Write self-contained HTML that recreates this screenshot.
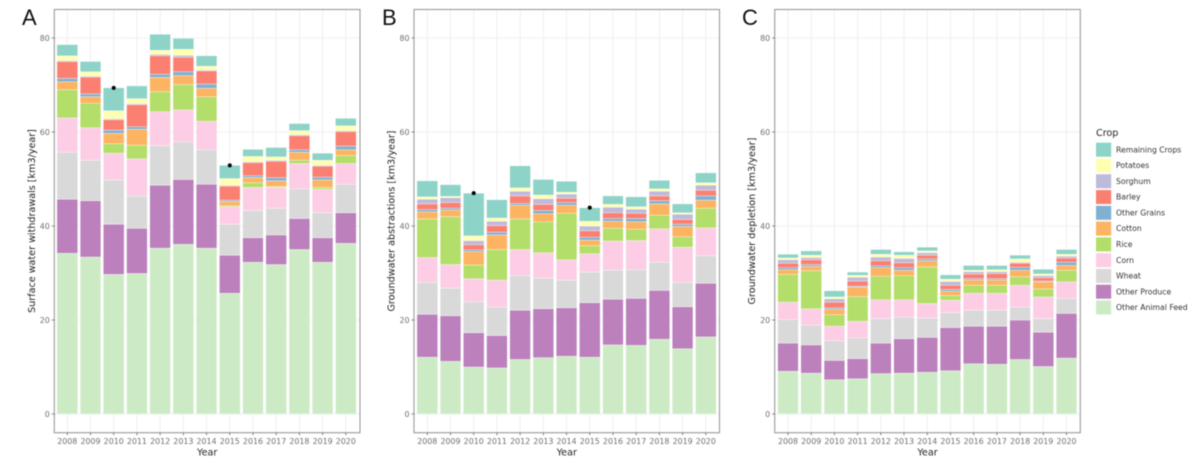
<!DOCTYPE html>
<html lang="en">
<head>
<meta charset="utf-8">
<title>Crop water use charts</title>
<style>
html,body{margin:0;padding:0;background:#fff;width:1200px;height:467px;overflow:hidden}
svg{display:block;filter:blur(0.45px)}
text{font-family:"DejaVu Sans","Liberation Sans",sans-serif}
</style>
</head>
<body>
<svg id="chart" width="1200" height="467" viewBox="0 0 1200 467" xmlns="http://www.w3.org/2000/svg"></svg>
<script>
const years = ["2008","2009","2010","2011","2012","2013","2014","2015","2016","2017","2018","2019","2020"];
const yTicks = [0,20,40,60,80];
const crops = ["Other Animal Feed","Other Produce","Wheat","Corn","Rice","Cotton","Other Grains","Barley","Sorghum","Potatoes","Remaining Crops"];
const cropColors = ["#ccebc5","#bc80bd","#d9d9d9","#fccde5","#b3de69","#fdb462","#80b1d3","#fb8072","#bebada","#ffffb3","#8dd3c7"];

const aFeed = [34.2,33.4,29.7,29.9,35.3,36.1,35.3,25.7,32.3,31.8,35,32.3,36.3];
const aProduce = [11.5,12,10.7,9.6,13.4,13.8,13.6,8.1,5.2,6.3,6.6,5.2,6.5];
const aWheat = [10,8.6,9.4,6.9,8.4,8,7.3,6.6,5.8,5.7,6.3,5.3,6.1];
const aCorn = [7.3,6.9,5.7,7.9,7.2,6.8,6.1,3.7,4.9,4.4,5.4,5,4.4];
const aRice = [6,5.2,2,2.9,4.3,5.4,5.2,0.2,1,0.2,0.7,0.4,1.7];
const aCotton = [1.7,1.4,2.2,3.4,3,1.9,1.8,0.9,1.1,1.2,1.7,1.6,1.2];
const aGrains = [0.7,0.6,0.7,0.5,0.7,0.8,0.9,0.3,0.4,0.7,0.5,0.6,0.8];
const aBarley = [3.6,3.6,2.2,4.7,3.9,3.1,2.8,3,2.8,3.5,3,2.3,3.1];
const aSorghum = [0.2,0.2,0.2,0.2,0.3,0.4,0.2,0.2,0.2,0.2,0.2,0.2,0.2];
const aPotatoes = [1,0.9,1.7,1.1,0.9,1.3,0.8,1.4,1.1,0.7,0.9,1.1,1];
const aRemaining = [2.4,2.2,4.9,2.7,3.4,2.3,2.2,2.8,1.5,2,1.5,1.5,1.6];

const bFeed = [12.1,11.2,10,9.8,11.6,12,12.3,12.1,14.7,14.6,15.9,13.9,16.4];
const bProduce = [9.1,9.7,7.3,6.9,10.5,10.4,10.3,11.6,9.7,10,10.4,8.9,11.4];
const bWheat = [6.8,5.9,6.6,6,7.3,6.5,5.9,6.5,6.2,6.1,6,5.2,5.9];
const bCorn = [5.3,5,4.9,5.8,5.6,5.4,4.3,3.9,6.2,6.2,7.1,7.5,5.9];
const bRice = [8.2,10.2,2.9,6.5,6.5,6.6,9.9,1.7,2.7,2.4,2.9,2.2,4.2];
const bCotton = [1.5,1.4,2.8,3.1,2.9,1.7,1.7,1.2,1.5,1.6,2.4,2.2,1.7];
const bGrains = [0.5,0.4,0.4,0.6,0.4,0.7,0.6,0.6,0.6,0.7,0.7,0.5,0.9];
const bBarley = [1.2,1.2,1.1,1.4,1.6,1.3,0.9,1.4,1.2,1.1,1,1,1.2];
const bSorghum = [1,1,0.9,0.9,1,1.2,0.9,1,1.2,0.9,1,1.1,1.1];
const bPotatoes = [0.5,0.3,1,0.7,0.7,0.8,0.4,1,0.6,0.5,0.5,0.3,0.5];
const bRemaining = [3.4,2.5,9.1,3.9,4.7,3.3,2.3,2.9,1.8,2.1,1.8,1.9,2.1];

const cFeed = [9.1,8.7,7.3,7.5,8.6,8.7,8.9,9.2,10.7,10.6,11.6,10.1,11.9];
const cProduce = [6,6,4.1,4.3,6.5,7.3,7.4,9.2,8,8.1,8.4,7.3,9.5];
const cWheat = [5,4.2,4.2,4.4,5.2,4.6,4.1,3.2,3.4,3.4,2.7,2.9,3.2];
const cCorn = [3.7,3.5,3.1,3.5,4,3.7,3.1,2.6,3.6,3.6,4.7,4.6,3.5];
const cRice = [5.9,8.1,2.4,5.3,5,5.1,7.8,1,1.7,1.7,1.8,1.7,2.5];
const cCotton = [1,0.9,1.2,2,1.8,1.2,1.3,0.9,1.1,1.1,1.4,1.5,1];
const cGrains = [0.4,0.4,0.3,0.2,0.4,0.5,0.4,0.4,0.3,0.3,0.6,0.2,0.7];
const cBarley = [1,1,1.2,1.1,1.1,1.1,0.8,0.9,1,1.1,0.9,0.7,0.9];
const cSorghum = [0.7,0.5,0.7,0.8,0.8,0.9,0.5,0.8,0.5,0.4,0.2,0.4,0.4];
const cPotatoes = [0.4,0.5,0.4,0.4,0.6,0.7,0.4,0.5,0.3,0.4,0.7,0.4,0.4];
const cRemaining = [0.8,0.9,1.3,0.7,1,0.7,0.8,0.9,1,0.9,0.8,1,1];

const aDotYears = ["2010","2015"];
const aDotValues = [69.4,52.9];
const bDotYears = ["2010","2015"];
const bDotValues = [47,43.9];

const aSeries = [aFeed,aProduce,aWheat,aCorn,aRice,aCotton,aGrains,aBarley,aSorghum,aPotatoes,aRemaining];
const bSeries = [bFeed,bProduce,bWheat,bCorn,bRice,bCotton,bGrains,bBarley,bSorghum,bPotatoes,bRemaining];
const cSeries = [cFeed,cProduce,cWheat,cCorn,cRice,cCotton,cGrains,cBarley,cSorghum,cPotatoes,cRemaining];

const svg = document.getElementById('chart');
const NS = 'http://www.w3.org/2000/svg';
function mk(parent, tag, attrs, txt){
  const e = document.createElementNS(NS, tag);
  for (const k in attrs) e.setAttribute(k, attrs[k]);
  if (txt !== undefined) e.textContent = txt;
  parent.appendChild(e);
  return e;
}
const yScale = v => 414 - v * 4.7;
const PANEL_TOP = 9.5, PANEL_BOTTOM = 432.7;
const BAR_W = 20.7, STEP = 23.21;

function drawPanel(o){
  const xScale = i => o.first + i * STEP;
  const g = mk(svg, 'g', {});
  
  

  const letter = mk(g, 'text', {x:o.letterX, y:25, 'font-size':22, fill:'#111', style:'font-family:"Liberation Sans",sans-serif'}, o.id.toUpperCase());
  
  

  yTicks.forEach(t => {
    const gl = mk(g, 'line', {x1:o.left, x2:o.right, y1:yScale(t), y2:yScale(t), stroke:'#efefef', 'stroke-width':1});
    
    
  });
  years.forEach((y, i) => {
    const gl = mk(g, 'line', {x1:xScale(i), x2:xScale(i), y1:PANEL_TOP, y2:PANEL_BOTTOM, stroke:'#efefef', 'stroke-width':1});
    
    
  });

  years.forEach((y, i) => {
    let cum = 0;
    o.series.forEach((s, k) => {
      const v = s[i];
      const r = mk(g, 'rect', {x:xScale(i) - BAR_W / 2, y:yScale(cum + v), width:BAR_W, height:v * 4.7, fill:cropColors[k], stroke:'#ffffff', 'stroke-width':0.35});
      
      
      cum += v;
    });
  });

  o.dotYears.forEach((y, i) => {
    const d = mk(g, 'circle', {cx:xScale(years.indexOf(y)), cy:yScale(o.dotValues[i]), r:2, fill:'#000'});
    
    
  });

  const border = mk(g, 'rect', {x:o.left, y:PANEL_TOP, width:o.right - o.left, height:PANEL_BOTTOM - PANEL_TOP, fill:'none', stroke:'#9a9a9a', 'stroke-width':1.1});
  
  

  yTicks.forEach(t => {
    const tk = mk(g, 'line', {x1:o.left - 2.5, x2:o.left, y1:yScale(t), y2:yScale(t), stroke:'#666', 'stroke-width':0.8});
    
    
    const lb = mk(g, 'text', {x:o.left - 4.5, y:yScale(t) + 2.8, 'text-anchor':'end', 'font-size':7.9, fill:'#6e6e6e'}, String(t));
    
    
  });
  years.forEach((y, i) => {
    const tk = mk(g, 'line', {x1:xScale(i), x2:xScale(i), y1:PANEL_BOTTOM, y2:PANEL_BOTTOM + 2.5, stroke:'#666', 'stroke-width':0.8});
    
    
    const lb = mk(g, 'text', {x:xScale(i), y:444, 'text-anchor':'middle', 'font-size':7.9, fill:'#6e6e6e'}, y);
    
    
  });

  const xt = mk(g, 'text', {x:(o.left + o.right) / 2, y:455.5, 'text-anchor':'middle', 'font-size':9.6, fill:'#222'}, 'Year');
  
  

  const yt = mk(g, 'text', {transform:'translate(' + (o.left - 19.5) + ',221) rotate(-90)', 'text-anchor':'middle', 'font-size':9.6, fill:'#222'}, o.yTitle);
  
  
}

drawPanel({id:'a', letterX:22, left:54.3, right:360, first:67.3, series:aSeries, dotYears:aDotYears, dotValues:aDotValues, yTitle:'Surface water withdrawals [km3/year]'});
drawPanel({id:'b', letterX:382, left:414, right:719.5, first:427.3, series:bSeries, dotYears:bDotYears, dotValues:bDotValues, yTitle:'Groundwater abstractions [km3/year]'});
drawPanel({id:'c', letterX:742, left:774.7, right:1080.3, first:788, series:cSeries, dotYears:[], dotValues:[], yTitle:'Groundwater depletion [km3/year]'});

const legend = mk(svg, 'g', {});


const legendTitle = mk(legend, 'text', {x:1096, y:136, 'font-size':9.6, fill:'#222'}, 'Crop');


for (let k = crops.length - 1, row = 0; k >= 0; k--, row++) {
  const cy = 149.7 + row * 15.78;
  const sw = mk(legend, 'rect', {x:1096, y:cy - 7, width:15.2, height:14, fill:cropColors[k]});
  
  
  const lb = mk(legend, 'text', {x:1116, y:cy + 2.6, 'font-size':7.7, fill:'#333'}, crops[k] === 'Corn' ? 'Corn' : crops[k]);
  
  
}
</script>
</body>
</html>
